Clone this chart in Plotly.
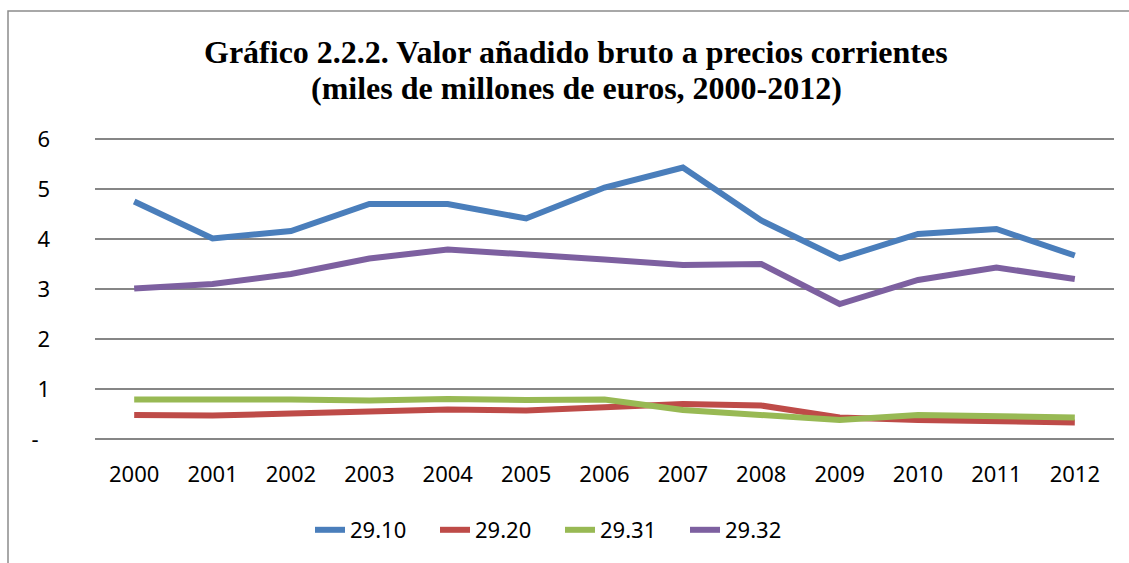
import plotly.graph_objects as go

years = ["2000", "2001", "2002", "2003", "2004", "2005", "2006",
         "2007", "2008", "2009", "2010", "2011", "2012"]
s_2910 = [4.75, 4.01, 4.16, 4.70, 4.70, 4.41, 5.03, 5.43, 4.37, 3.61, 4.10, 4.20, 3.67]
s_2920 = [0.48, 0.47, 0.51, 0.55, 0.59, 0.57, 0.63, 0.70, 0.67, 0.43, 0.38, 0.35, 0.33]
s_2931 = [0.79, 0.80, 0.79, 0.77, 0.80, 0.78, 0.79, 0.58, 0.48, 0.38, 0.48, 0.45, 0.43]
s_2932 = [3.01, 3.10, 3.30, 3.61, 3.79, 3.70, 3.59, 3.48, 3.50, 2.70, 3.18, 3.43, 3.20]

series = [
    ("29.10", s_2910, "#4A7EBB"),
    ("29.20", s_2920, "#BE4B48"),
    ("29.31", s_2931, "#98B954"),
    ("29.32", s_2932, "#7D60A0"),
]

y_ticks = [0, 1, 2, 3, 4, 5, 6]
y_ticktext = ["-\u00a0\u00a0", "1", "2", "3", "4", "5", "6"]
title_lines = ["Gráfico 2.2.2. Valor añadido bruto a precios corrientes",
               "(miles de millones de euros, 2000-2012)"]

fig = go.Figure()
for name, vals, color in series:
    fig.add_trace(go.Scatter(
        x=years, y=vals, name=name, mode="lines",
        line=dict(color=color, width=6),
    ))

W, H = 1129, 563
L, R, T, B = 95, 15, 137, 122
PW, PH = W - L - R, H - T - B

def px_x(x):
    return (x - L) / PW

def px_y(y):
    return (H - B - y) / PH

fig.update_layout(
    width=W, height=H,
    margin=dict(l=L, r=R, t=T, b=B, pad=0, autoexpand=False),
    paper_bgcolor="white", plot_bgcolor="white",
    font=dict(family="Noto Sans", size=22, color="black"),
    xaxis=dict(
        type="category", range=[-0.5, 12.5], showgrid=False, zeroline=False,
        showline=False, ticks="", ticklabelstandoff=18,
        tickfont=dict(family="Noto Sans", size=22),
    ),
    yaxis=dict(
        range=[-0.04, 6.04], tickvals=y_ticks, ticktext=y_ticktext,
        showgrid=True, gridcolor="#868686", gridwidth=1.5,
        zeroline=False, showline=False, ticks="",
        ticklabelstandoff=44,
        tickfont=dict(family="Noto Sans", size=22),
    ),
    legend=dict(
        orientation="h", x=px_x(560), xanchor="center",
        y=px_y(530), yanchor="middle",
        entrywidth=80, entrywidthmode="pixels",
        font=dict(family="Noto Sans", size=22),
        bgcolor="rgba(0,0,0,0)",
    ),
    showlegend=True,
)

for txt, yc in zip(title_lines, [52, 88]):
    fig.add_annotation(
        text="<b>" + txt + "</b>", xref="paper", yref="paper",
        x=px_x(576), y=px_y(yc), xanchor="center", yanchor="middle",
        showarrow=False,
        font=dict(family="Liberation Serif", size=32, color="black"),
    )

fig.add_shape(
    type="rect", xref="paper", yref="paper",
    x0=px_x(8), x1=px_x(W + 20),
    y0=px_y(H + 20), y1=px_y(11),
    line=dict(color="#8C8C8C", width=1.5), fillcolor="rgba(0,0,0,0)",
    layer="below",
)

fig.write_html(
    "out.html",
    config={"displayModeBar": False},
    post_script="document.body.style.margin='0';document.body.style.overflow='hidden';",
)
